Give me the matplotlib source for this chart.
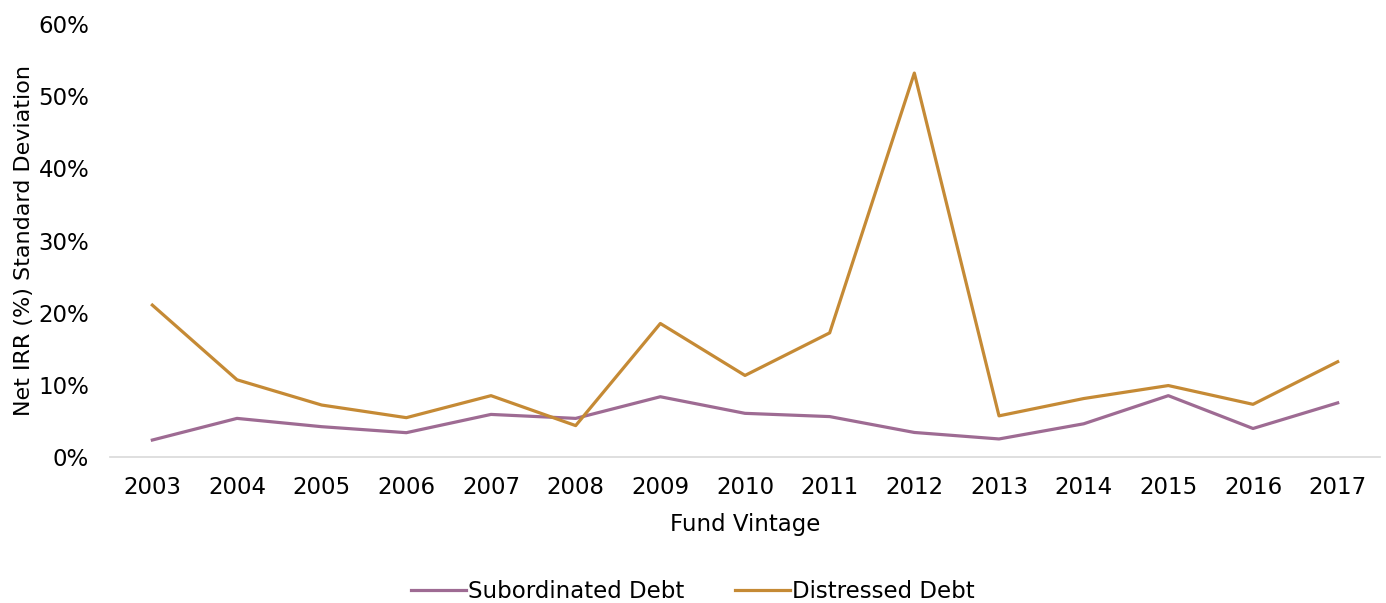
import matplotlib.pyplot as plt
from matplotlib.ticker import PercentFormatter

years = [str(y) for y in range(2003, 2018)]
subordinated = [2.35, 5.35, 4.2, 3.37, 5.9, 5.35, 8.35, 6.05, 5.6, 3.4, 2.5, 4.6, 8.5, 3.95, 7.5]
distressed = [21.05, 10.7, 7.2, 5.45, 8.5, 4.35, 18.5, 11.3, 17.2, 53.2, 5.7, 8.1, 9.9, 7.3, 13.2]

plt.rcParams['font.family'] = 'DejaVu Sans'
fs = 16.5

fig = plt.figure(figsize=(13.86, 6.03), dpi=100)
ax = fig.add_axes([110 / 1386, 1 - 457 / 603, 1270 / 1386, 433 / 603])

x = range(len(years))
ax.plot(x, subordinated, color='#9E6B93', lw=2.3, label='Subordinated Debt')
ax.plot(x, distressed, color='#C58A35', lw=2.3, label='Distressed Debt')

ax.set_xlim(-0.5, len(years) - 0.5)
ax.set_ylim(0, 60)
ax.set_yticks(range(0, 61, 10))
ax.yaxis.set_major_formatter(PercentFormatter(decimals=0))
ax.set_xticks(list(x))
ax.set_xticklabels(years)
ax.tick_params(length=0, labelsize=fs, colors='black')
ax.tick_params(axis='x', pad=14)
ax.tick_params(axis='y', pad=15)

for s in ['top', 'right', 'left']:
    ax.spines[s].set_visible(False)
ax.spines['bottom'].set_color('#D9D9D9')
ax.spines['bottom'].set_linewidth(1.2)

ax.set_xlabel('Fund Vintage', fontsize=fs, labelpad=10)
ax.set_ylabel('Net IRR (%) Standard Deviation', fontsize=16, labelpad=3)

fig.legend(loc='lower center', bbox_to_anchor=(0.5, -0.035), ncol=2, frameon=False,
           fontsize=fs, handlelength=2.4, handletextpad=0.1, columnspacing=2.2)

fig.savefig('out.png', dpi=100)
